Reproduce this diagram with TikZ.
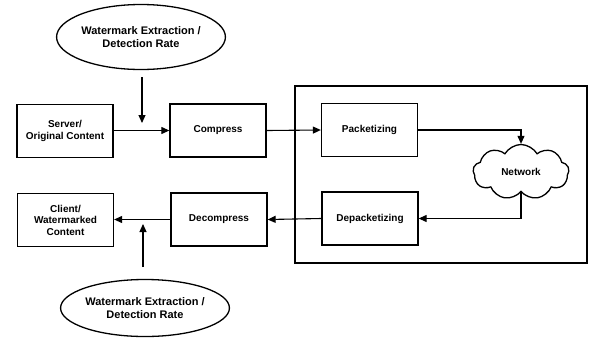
\documentclass[tikz,border=0pt]{standalone}
\usepackage{fontspec}
\setmainfont{Liberation Sans}
\usetikzlibrary{shapes.geometric,shapes.symbols,arrows.meta}
\begin{document}
\begin{tikzpicture}[x=1pt,y=-1pt,
  box/.style={draw,line width=1.3pt,minimum width=96pt,minimum height=53pt,inner sep=1pt,align=center,font=\bfseries\fontsize{10}{11.5}\selectfont},
  ell/.style={draw,ellipse,line width=1.3pt,inner sep=0pt,align=center,font=\bfseries\fontsize{11}{13}\selectfont},
  arr/.style={-{Triangle[length=8pt,width=7pt]},line width=1.1pt}]
\useasboundingbox (0,0) rectangle (589,338);
\draw[line width=1.3pt] (295,86) rectangle (587,263);
\node[ell,minimum width=131pt,minimum height=65pt] (ellTop) at (141,37) {Watermark Extraction /\\Detection Rate};
\node[box] (server) at (65,131) {Server/\\Original Content};
\node[box] (compress) at (218,130.5) {Compress};
\node[box] (packet) at (369.5,130) {Packetizing};
\node[draw,cloud,cloud puffs=9,cloud puff arc=120,aspect=1.75,line width=1.3pt,minimum width=96pt,minimum height=55pt,inner sep=0pt,font=\bfseries\fontsize{10}{11.5}\selectfont] (cloud) at (521,172) {Network};
\node[box] (depack) at (370,218.5) {Depacketizing};
\node[box] (decompress) at (219,219.5) {Decompress};
\node[box] (client) at (65.5,220) {Client/\\Watermarked\\Content};
\node[ell,minimum width=128pt,minimum height=57pt] (ellBot) at (145,308) {Watermark Extraction /\\Detection Rate};
\coordinate (t1) at (142,77);
\coordinate (t2) at (142,123);
\coordinate (b1) at (143,267);
\coordinate (b2) at (143,224);
\draw[arr] (server.east |- compress.west) -- (compress.west);
\draw[arr] (t1) -- (t2);
\draw[arr] (compress.east) -- (packet.west);
\draw[arr] (packet.east) -| (cloud.north);
\draw[arr] (cloud.south) |- (depack.east);
\draw[arr] (depack.west) -- (decompress.east);
\draw[arr] (decompress.west) -- (client.east |- decompress.west);
\draw[arr] (b1) -- (b2);
\end{tikzpicture}
\end{document}
